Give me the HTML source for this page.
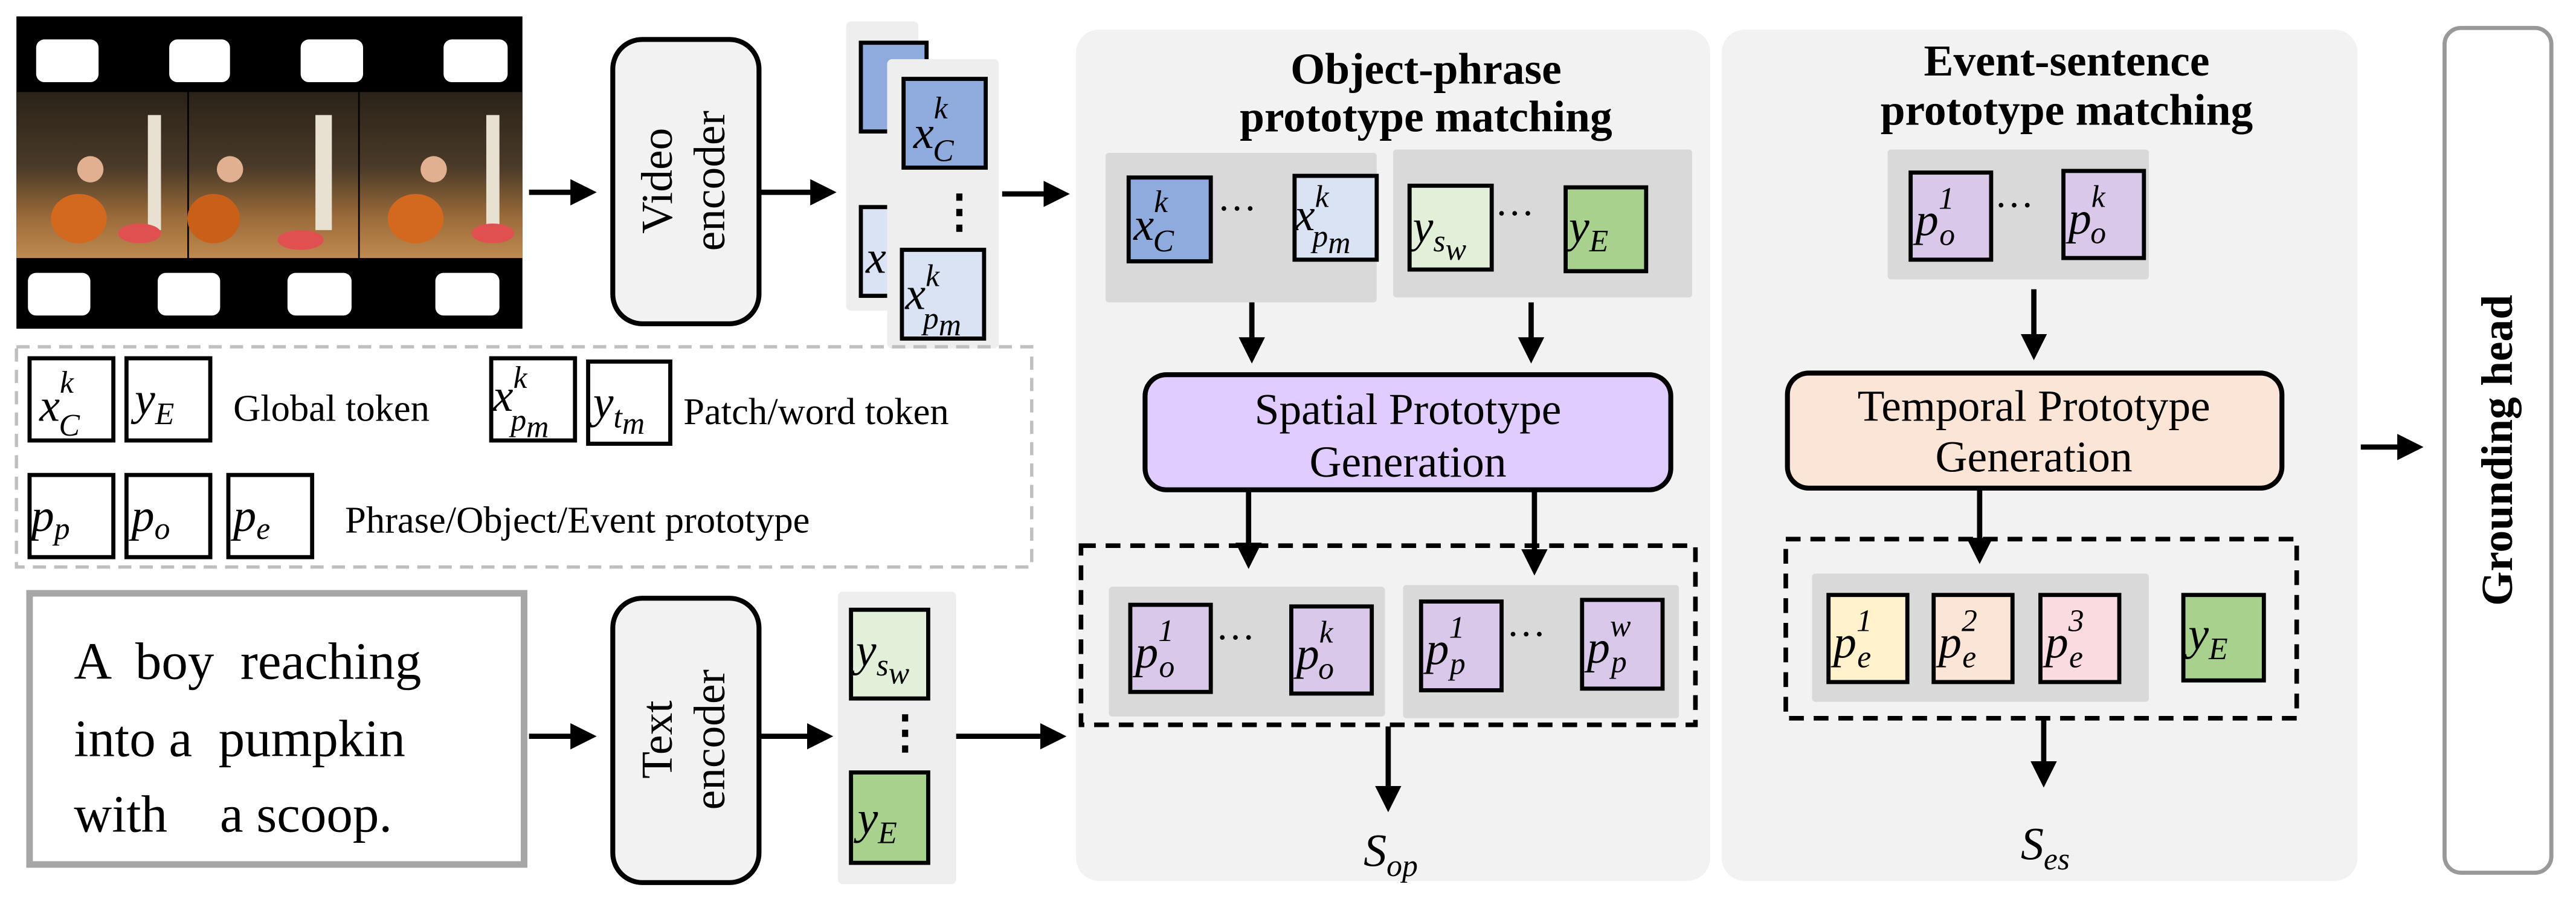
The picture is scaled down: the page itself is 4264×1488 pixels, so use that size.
<!DOCTYPE html>
<html><head><meta charset="utf-8"><style>
html,body{margin:0;padding:0;background:#fff;}
svg{display:block;font-family:"Liberation Serif","Times New Roman","Noto Serif CJK SC","DejaVu Serif",serif;}
text,tspan{font-family:"Liberation Serif","Times New Roman","Noto Serif CJK SC","DejaVu Serif",serif;}
.m{font-style:italic;font-size:28px;fill:#000;}
.s{font-size:19px;}
.t{fill:#000;}
</style></head><body>
<svg width="4264" height="1488" viewBox="0 0 1568 547" preserveAspectRatio="none" xmlns="http://www.w3.org/2000/svg">
<defs>
<marker id="ah" markerWidth="5" markerHeight="5" refX="4" refY="2.5" orient="auto" markerUnits="strokeWidth"><path d="M0,0 L5,2.5 L0,5 z" fill="#000"/></marker>
<linearGradient id="ph" x1="0" y1="0" x2="0" y2="1"><stop offset="0" stop-color="#2a2218"/><stop offset="0.45" stop-color="#4a3a28"/><stop offset="0.75" stop-color="#9a6a3a"/><stop offset="1" stop-color="#c08a50"/></linearGradient>
</defs>
<rect width="1568" height="547" fill="#fff"/>
<rect x="10" y="10" width="308" height="190" fill="#000"/>
<g fill="#fff">
<rect x="22" y="24" width="38" height="26" rx="5"/><rect x="103" y="24" width="37" height="26" rx="5"/><rect x="183" y="24" width="38" height="26" rx="5"/><rect x="270" y="24" width="39" height="26" rx="5"/>
<rect x="17" y="166" width="38" height="26" rx="5"/><rect x="96" y="166" width="38" height="26" rx="5"/><rect x="175" y="166" width="39" height="26" rx="5"/><rect x="265" y="166" width="39" height="26" rx="5"/>
</g>
<g>
<rect x="10" y="56" width="104" height="101" fill="url(#ph)"/>
<rect x="115" y="56" width="103" height="101" fill="url(#ph)"/>
<rect x="219" y="56" width="99" height="101" fill="url(#ph)"/>
<rect x="90" y="70" width="8" height="70" fill="#e8e0d0"/><rect x="192" y="70" width="10" height="70" fill="#e8e0d0"/><rect x="296" y="70" width="8" height="70" fill="#e8e0d0"/>
<ellipse cx="48" cy="133" rx="17" ry="15" fill="#d2691e"/><ellipse cx="130" cy="133" rx="16" ry="15" fill="#c8601a"/><ellipse cx="253" cy="133" rx="17" ry="15" fill="#d2691e"/>
<ellipse cx="85" cy="142" rx="13" ry="6" fill="#e05050"/><ellipse cx="183" cy="146" rx="14" ry="6" fill="#e05050"/><ellipse cx="300" cy="142" rx="13" ry="6" fill="#e05050"/>
<circle cx="55" cy="103" r="8" fill="#e0b090"/><circle cx="140" cy="103" r="8" fill="#e0b090"/><circle cx="264" cy="103" r="8" fill="#e0b090"/>
</g>
<rect x="373" y="24" width="89" height="173" rx="18" fill="#f2f2f2" stroke="#000" stroke-width="3"/>
<text class="t" font-size="27" text-anchor="middle" transform="translate(417,110) rotate(-90)"><tspan x="0" y="-8">Video</tspan><tspan x="0" y="24">encoder</tspan></text>
<rect x="373" y="364" width="89" height="173" rx="18" fill="#f2f2f2" stroke="#000" stroke-width="3"/>
<text class="t" font-size="27" text-anchor="middle" transform="translate(417,450) rotate(-90)"><tspan x="0" y="-8">Text</tspan><tspan x="0" y="24">encoder</tspan></text>
<rect x="515" y="13" width="44" height="176" rx="3" fill="#eeeeee"/>
<rect x="524" y="26" width="40" height="54" fill="#8faadc" stroke="#000" stroke-width="2.5"/>
<rect x="524" y="126" width="40" height="54" fill="#dae3f3" stroke="#000" stroke-width="2.5"/>
<text class="m" x="527" y="166">x</text>
<rect x="540" y="36" width="68" height="176" rx="3" fill="#eeeeee"/>
<rect x="550" y="48" width="50" height="54" fill="#8faadc" stroke="#000" stroke-width="2.5"/>
<text class="m" x="556" y="90">x<tspan class="s" dy="-18">k</tspan><tspan class="s" dx="-9" dy="26">C</tspan></text>
<text class="t" font-size="28" x="570" y="138" font-weight="bold">⋮</text>
<rect x="549" y="152" width="50" height="54" fill="#dae3f3" stroke="#000" stroke-width="2.5"/>
<text class="m" x="551" y="188">x<tspan class="s" dy="-14">k</tspan><tspan class="s" dx="-10" dy="26">p</tspan><tspan class="s" font-size="14" dy="4">m</tspan></text>
<rect x="510" y="360" width="72" height="178" rx="3" fill="#eeeeee"/>
<rect x="518" y="371" width="47" height="54" fill="#e2f0d9" stroke="#000" stroke-width="2.5"/>
<text class="m" x="521" y="405">y<tspan class="s" dy="6">s</tspan><tspan class="s" font-size="14" dy="5">w</tspan></text>
<text class="t" font-size="28" x="537" y="455" font-weight="bold">⋮</text>
<rect x="518" y="470" width="47" height="55" fill="#a9d18e" stroke="#000" stroke-width="2.5"/>
<text class="m" x="522" y="507">y<tspan class="s" dy="6">E</tspan></text>
<rect x="10" y="211" width="618" height="134" fill="none" stroke="#bfbfbf" stroke-width="2" stroke-dasharray="8,5"/>
<g fill="#fff" stroke="#000" stroke-width="2.5">
<rect x="18" y="218" width="51" height="50"/><rect x="77" y="218" width="51" height="50"/>
<rect x="299" y="218" width="51" height="50"/><rect x="358" y="220" width="50" height="50"/>
<rect x="18" y="289" width="51" height="50"/><rect x="77" y="289" width="51" height="50"/><rect x="139" y="289" width="51" height="50"/>
</g>
<text class="m" x="24" y="256">x<tspan class="s" dy="-17">k</tspan><tspan class="s" dx="-9" dy="26">C</tspan></text>
<text class="m" x="82" y="252">y<tspan class="s" dy="6">E</tspan></text>
<text class="m" x="300" y="250">x<tspan class="s" dy="-14">k</tspan><tspan class="s" dx="-10" dy="26">p</tspan><tspan class="s" font-size="14" dy="4">m</tspan></text>
<text class="m" x="361" y="254">y<tspan class="s" dy="6">t</tspan><tspan class="s" font-size="14" dy="4">m</tspan></text>
<text class="t" font-size="23" x="142" y="256">Global token</text>
<text class="t" font-size="23" x="416" y="258">Patch/word token</text>
<text class="m" x="19" y="323">p<tspan class="s" dy="5">p</tspan></text>
<text class="m" x="80" y="323">p<tspan class="s" dy="5">o</tspan></text>
<text class="m" x="142" y="323">p<tspan class="s" dy="5">e</tspan></text>
<text class="t" font-size="23" x="210" y="324">Phrase/Object/Event prototype</text>
<rect x="18" y="361" width="301" height="165" fill="#fff" stroke="#a6a6a6" stroke-width="4"/>
<text class="t" font-size="32" xml:space="preserve"><tspan x="45" y="413">A  boy  reaching</tspan><tspan x="45" y="460">into a  pumpkin</tspan><tspan x="45" y="506">with    a scoop.</tspan></text>
<rect x="655" y="18" width="386" height="518" rx="14" fill="#f2f2f2"/>
<text class="t" font-size="27" font-weight="bold" text-anchor="middle"><tspan x="868" y="51">Object-phrase</tspan><tspan x="868" y="80">prototype matching</tspan></text>
<rect x="673" y="93" width="165" height="91" rx="2" fill="#d9d9d9"/>
<rect x="848" y="91" width="182" height="90" rx="2" fill="#d9d9d9"/>
<rect x="687" y="108" width="50" height="51" fill="#8faadc" stroke="#000" stroke-width="2.5"/>
<text class="m" x="690" y="146">x<tspan class="s" dy="-17">k</tspan><tspan class="s" dx="-9" dy="24">C</tspan></text>
<text class="t" font-size="24" font-weight="bold" x="741" y="136">⋯</text>
<rect x="788" y="107" width="50" height="51" fill="#dae3f3" stroke="#000" stroke-width="2.5"/>
<text class="m" x="788" y="140">x<tspan class="s" dy="-14">k</tspan><tspan class="s" dx="-10" dy="24">p</tspan><tspan class="s" font-size="14" dy="4">m</tspan></text>
<rect x="858" y="113" width="50" height="51" fill="#e2f0d9" stroke="#000" stroke-width="2.5"/>
<text class="m" x="860" y="147">y<tspan class="s" dy="6">s</tspan><tspan class="s" font-size="14" dy="5">w</tspan></text>
<text class="t" font-size="24" font-weight="bold" x="910" y="139">⋯</text>
<rect x="953" y="114" width="49" height="51" fill="#a9d18e" stroke="#000" stroke-width="2.5"/>
<text class="m" x="955" y="147">y<tspan class="s" dy="6">E</tspan></text>
<rect x="697" y="228" width="320" height="70" rx="13" fill="#e0ccff" stroke="#000" stroke-width="3"/>
<text class="t" font-size="27" text-anchor="middle"><tspan x="857" y="258">Spatial Prototype</tspan><tspan x="857" y="290">Generation</tspan></text>
<rect x="658" y="332" width="374" height="109" fill="none" stroke="#000" stroke-width="2.8" stroke-dasharray="9,6"/>
<rect x="675" y="357" width="168" height="79" rx="2" fill="#d9d9d9"/>
<rect x="854" y="356" width="168" height="81" rx="2" fill="#d9d9d9"/>
<rect x="688" y="368" width="49" height="53" fill="#d9c8ea" stroke="#000" stroke-width="2.5"/>
<text class="m" x="691" y="406">p<tspan class="s" dy="-16">1</tspan><tspan class="s" dx="-9" dy="22">o</tspan></text>
<text class="t" font-size="24" font-weight="bold" x="740" y="397">⋯</text>
<rect x="786" y="369" width="49" height="53" fill="#d9c8ea" stroke="#000" stroke-width="2.5"/>
<text class="m" x="789" y="407">p<tspan class="s" dy="-16">k</tspan><tspan class="s" dx="-9" dy="22">o</tspan></text>
<rect x="865" y="366" width="49" height="54" fill="#d9c8ea" stroke="#000" stroke-width="2.5"/>
<text class="m" x="868" y="404">p<tspan class="s" dy="-16">1</tspan><tspan class="s" dx="-9" dy="22">p</tspan></text>
<text class="t" font-size="24" font-weight="bold" x="917" y="395">⋯</text>
<rect x="963" y="365" width="49" height="54" fill="#d9c8ea" stroke="#000" stroke-width="2.5"/>
<text class="m" x="966" y="403">p<tspan class="s" dy="-16">w</tspan><tspan class="s" dx="-12" dy="22">p</tspan></text>
<text class="m" x="830" y="527">S<tspan class="s" dy="6">op</tspan></text>
<rect x="1048" y="18" width="387" height="518" rx="14" fill="#f2f2f2"/>
<text class="t" font-size="27" font-weight="bold" text-anchor="middle"><tspan x="1258" y="46">Event-sentence</tspan><tspan x="1258" y="76">prototype matching</tspan></text>
<rect x="1149" y="91" width="159" height="79" rx="2" fill="#d9d9d9"/>
<rect x="1163" y="105" width="49" height="53" fill="#d9c8ea" stroke="#000" stroke-width="2.5"/>
<text class="m" x="1166" y="143">p<tspan class="s" dy="-16">1</tspan><tspan class="s" dx="-9" dy="22">o</tspan></text>
<text class="t" font-size="24" font-weight="bold" x="1214" y="134">⋯</text>
<rect x="1256" y="104" width="49" height="53" fill="#d9c8ea" stroke="#000" stroke-width="2.5"/>
<text class="m" x="1259" y="142">p<tspan class="s" dy="-16">k</tspan><tspan class="s" dx="-9" dy="22">o</tspan></text>
<rect x="1088" y="227" width="301" height="70" rx="13" fill="#fbe5d6" stroke="#000" stroke-width="3"/>
<text class="t" font-size="27" text-anchor="middle"><tspan x="1238" y="256">Temporal Prototype</tspan><tspan x="1238" y="287">Generation</tspan></text>
<rect x="1087" y="328" width="311" height="109" fill="none" stroke="#000" stroke-width="2.8" stroke-dasharray="9,6"/>
<rect x="1103" y="349" width="205" height="78" rx="2" fill="#d9d9d9"/>
<rect x="1113" y="362" width="48" height="53" fill="#fff2cc" stroke="#000" stroke-width="2.5"/>
<text class="m" x="1116" y="400">p<tspan class="s" dy="-16">1</tspan><tspan class="s" dx="-9" dy="22">e</tspan></text>
<rect x="1177" y="362" width="48" height="53" fill="#fbe5d6" stroke="#000" stroke-width="2.5"/>
<text class="m" x="1180" y="400">p<tspan class="s" dy="-16">2</tspan><tspan class="s" dx="-9" dy="22">e</tspan></text>
<rect x="1242" y="362" width="48" height="53" fill="#fadbe0" stroke="#000" stroke-width="2.5"/>
<text class="m" x="1245" y="400">p<tspan class="s" dy="-16">3</tspan><tspan class="s" dx="-9" dy="22">e</tspan></text>
<rect x="1329" y="362" width="49" height="52" fill="#a9d18e" stroke="#000" stroke-width="2.5"/>
<text class="m" x="1332" y="395">y<tspan class="s" dy="6">E</tspan></text>
<text class="m" x="1230" y="523">S<tspan class="s" dy="6">es</tspan></text>
<rect x="1488" y="17" width="65" height="514" rx="10" fill="#fff" stroke="#999" stroke-width="2.5"/>
<text class="t" font-size="27" font-weight="bold" text-anchor="middle" transform="translate(1529,274) rotate(-90)">Grounding head</text>
<g stroke="#000" stroke-width="3.2" fill="none" marker-end="url(#ah)">
<line x1="322" y1="117" x2="360" y2="117"/>
<line x1="463" y1="117" x2="506" y2="117"/>
<line x1="610" y1="118" x2="648" y2="118"/>
<line x1="322" y1="448" x2="360" y2="448"/>
<line x1="463" y1="448" x2="504" y2="448"/>
<line x1="582" y1="448" x2="646" y2="448"/>
<line x1="762" y1="184" x2="762" y2="218"/>
<line x1="932" y1="184" x2="932" y2="218"/>
<line x1="760" y1="299" x2="760" y2="343"/>
<line x1="934" y1="299" x2="934" y2="347"/>
<line x1="845" y1="442" x2="845" y2="491"/>
<line x1="1238" y1="176" x2="1238" y2="216"/>
<line x1="1205" y1="297" x2="1205" y2="340"/>
<line x1="1244" y1="437" x2="1244" y2="476"/>
<line x1="1437" y1="272" x2="1472" y2="272"/>
</g>
</svg>
</body></html>
